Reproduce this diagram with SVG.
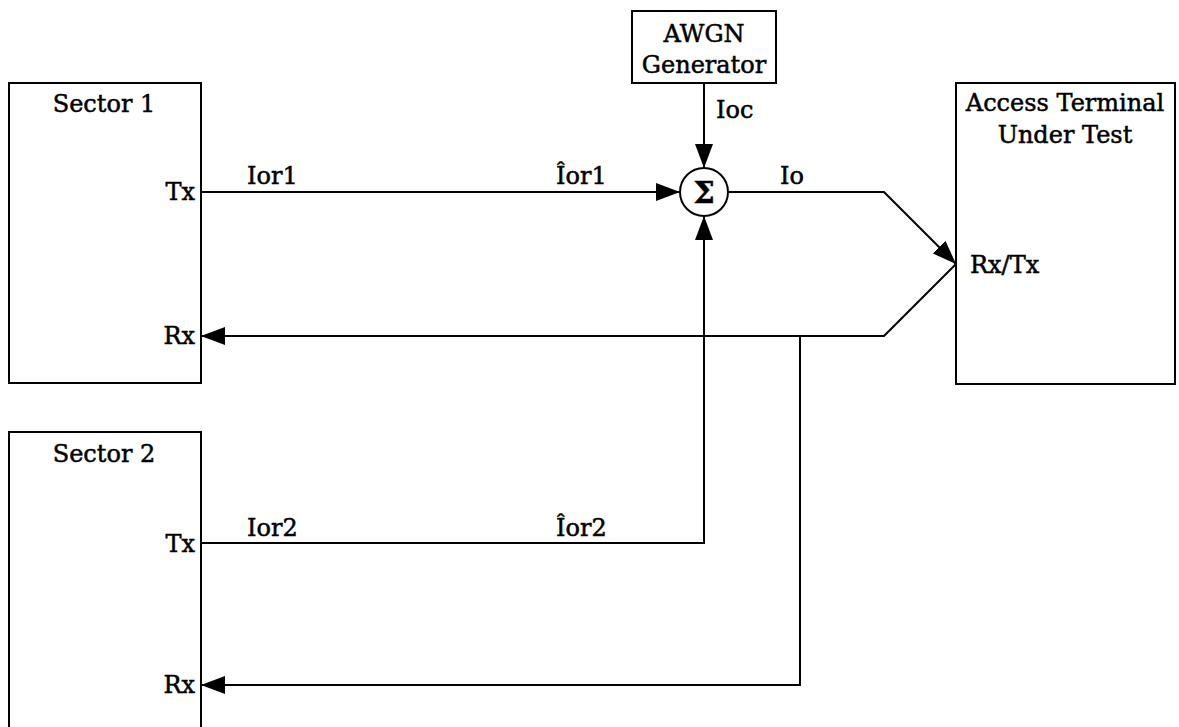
<svg xmlns="http://www.w3.org/2000/svg" width="1179" height="727" viewBox="0 0 1179 727">
<style>
text{font-family:"DejaVu Serif","Liberation Serif",serif;font-size:24px;fill:#000;stroke:#000;stroke-width:0.5}
.box{fill:#fff;stroke:#000;stroke-width:2}
.ln{fill:none;stroke:#000;stroke-width:2}
.r{text-anchor:end}
.m{text-anchor:middle}
</style>
<defs>
<marker id="ah" viewBox="0 0 24 18" refX="24" refY="9" markerWidth="24" markerHeight="18" markerUnits="userSpaceOnUse" orient="auto">
<path d="M0,0 L24,9 L0,18 Z" fill="#000"/>
</marker>
</defs>
<rect width="1179" height="727" fill="#fff"/>
<g id="connectors">
<line class="ln" x1="201" y1="192" x2="680" y2="192" marker-end="url(#ah)"/>
<line class="ln" x1="704" y1="83" x2="704" y2="168" marker-end="url(#ah)"/>
<polyline class="ln" points="201,543 704,543 704,216" marker-end="url(#ah)"/>
<polyline class="ln" points="728,192 884,192 956,264" marker-end="url(#ah)"/>
<polyline class="ln" points="956,264 884,336 201,336" marker-end="url(#ah)"/>
<polyline class="ln" points="800,336 800,685 201,685" marker-end="url(#ah)"/>
<text x="247" y="184">Ior1</text>
<text x="556" y="184">Îor1</text>
<text x="780" y="184">Io</text>
<text x="716" y="118">Ioc</text>
<text x="247" y="536">Ior2</text>
<text x="556" y="536">Îor2</text>
</g>
<g id="sector1">
<rect class="box" x="9" y="83" width="192" height="300"/>
<text class="m" x="104" y="112">Sector 1</text>
<text class="r" x="195" y="200">Tx</text>
<text class="r" x="195" y="344">Rx</text>
</g>
<g id="sector2">
<rect class="box" x="9" y="432" width="192" height="310"/>
<text class="m" x="104" y="462">Sector 2</text>
<text class="r" x="195" y="552">Tx</text>
<text class="r" x="195" y="693">Rx</text>
</g>
<g id="awgn">
<rect class="box" x="632" y="11" width="144" height="72"/>
<text class="m" x="704" y="42">AWGN</text>
<text class="m" x="704" y="73">Generator</text>
</g>
<g id="sum">
<circle class="box" cx="704" cy="192" r="24"/>
<text class="m" x="704" y="203" style="font-weight:bold;font-size:30px">Σ</text>
</g>
<g id="terminal">
<rect class="box" x="956" y="83" width="219" height="301"/>
<text class="m" x="1065" y="111">Access Terminal</text>
<text class="m" x="1065" y="143">Under Test</text>
<text x="970" y="273">Rx/Tx</text>
</g>
</svg>
